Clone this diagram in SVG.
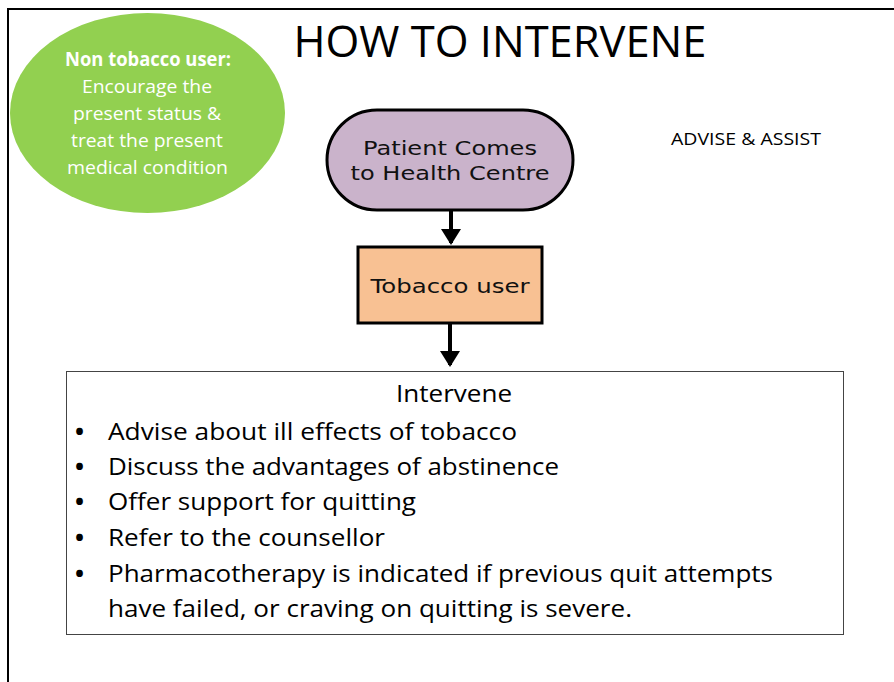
<svg xmlns="http://www.w3.org/2000/svg" width="894" height="682" viewBox="0 0 894 682">
<style>
.c{font-family:"Open Sans","Noto Sans",sans-serif;}
.v{font-family:"DejaVu Sans",Verdana,sans-serif;fill:#111;}
.w{fill:#fff;font-size:19px;text-anchor:middle;}
.b{fill:#000;font-size:24px;}
.bu{font-size:24px;font-weight:bold;}
.conn{stroke:#000;stroke-width:4;fill:none;}
</style>
<defs>
<marker id="ah" markerWidth="5" markerHeight="5" refX="3.5" refY="2.5" orient="auto" markerUnits="strokeWidth">
<path d="M0,0 L4,2.5 L0,5 Z" fill="#000"/>
</marker>
</defs>
<rect width="894" height="682" fill="#fff"/>
<g id="frame">
<path d="M8,682 L8,9 L894,9" stroke="#000" stroke-width="2" fill="none"/>
</g>
<g id="title">
<text class="c" x="500" y="57" font-size="43" text-anchor="middle" textLength="413" lengthAdjust="spacingAndGlyphs">HOW TO INTERVENE</text>
<text class="c" x="746" y="145" font-size="17" text-anchor="middle" textLength="150" lengthAdjust="spacingAndGlyphs">ADVISE &amp; ASSIST</text>
</g>
<g id="non-tobacco">
<ellipse cx="147.5" cy="113" rx="137.5" ry="100" fill="#92D050"/>
<text class="c w" x="148" y="66" font-weight="bold" textLength="166" lengthAdjust="spacingAndGlyphs">Non tobacco user:</text>
<text class="c w" x="147" y="93" textLength="130" lengthAdjust="spacingAndGlyphs">Encourage the</text>
<text class="c w" x="147" y="120" textLength="148" lengthAdjust="spacingAndGlyphs">present status &amp;</text>
<text class="c w" x="147" y="147" textLength="152" lengthAdjust="spacingAndGlyphs">treat the present</text>
<text class="c w" x="147.5" y="174" textLength="161" lengthAdjust="spacingAndGlyphs">medical condition</text>
</g>
<g id="connectors">
<line class="conn" x1="451" y1="211" x2="451" y2="243" marker-end="url(#ah)"/>
<line class="conn" x1="450" y1="324" x2="450" y2="365" marker-end="url(#ah)"/>
</g>
<g id="patient">
<rect x="327" y="110" width="246" height="100" rx="50" ry="50" fill="#CAB3CB" stroke="#000" stroke-width="3"/>
<text class="v" x="450" y="155" font-size="19" text-anchor="middle" textLength="174" lengthAdjust="spacingAndGlyphs">Patient Comes</text>
<text class="v" x="450" y="180" font-size="19" text-anchor="middle" textLength="199" lengthAdjust="spacingAndGlyphs">to Health Centre</text>
</g>
<g id="tobacco">
<rect x="358" y="247" width="184" height="76" fill="#F8C193" stroke="#000" stroke-width="3"/>
<text class="v" x="450" y="293" font-size="19" text-anchor="middle" textLength="159" lengthAdjust="spacingAndGlyphs">Tobacco user</text>
</g>
<g id="intervene">
<rect x="66.5" y="371.5" width="777" height="263" fill="#fff" stroke="#444" stroke-width="1"/>
<text class="c b" x="454" y="402" text-anchor="middle" textLength="116" lengthAdjust="spacingAndGlyphs">Intervene</text>
<g class="c b">
<text class="bu" x="75" y="440">•</text>
<text x="108" y="440" textLength="409" lengthAdjust="spacingAndGlyphs">Advise about ill effects of tobacco</text>
<text class="bu" x="75" y="475">•</text>
<text x="108" y="475" textLength="451" lengthAdjust="spacingAndGlyphs">Discuss the advantages of abstinence</text>
<text class="bu" x="75" y="510">•</text>
<text x="108" y="510" textLength="308" lengthAdjust="spacingAndGlyphs">Offer support for quitting</text>
<text class="bu" x="75" y="546">•</text>
<text x="108" y="546" textLength="277" lengthAdjust="spacingAndGlyphs">Refer to the counsellor</text>
<text class="bu" x="75" y="582">•</text>
<text x="108" y="582" textLength="665" lengthAdjust="spacingAndGlyphs">Pharmacotherapy is indicated if previous quit attempts</text>
<text x="108" y="617" textLength="524" lengthAdjust="spacingAndGlyphs">have failed, or craving on quitting is severe.</text>
</g>
</g>
</svg>
